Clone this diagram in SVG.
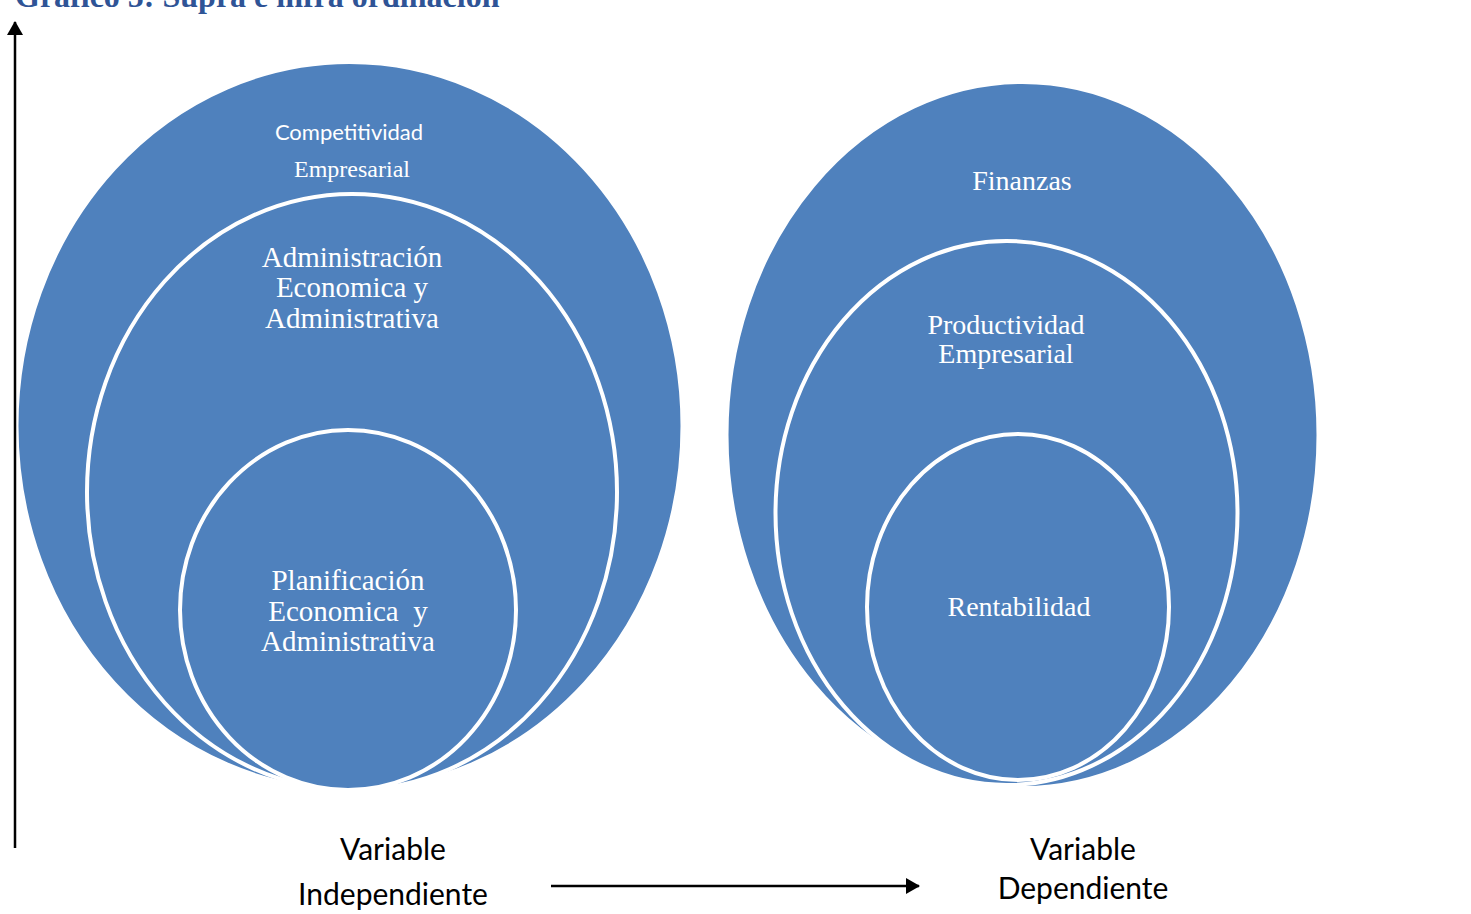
<svg xmlns="http://www.w3.org/2000/svg" width="1471" height="914" viewBox="0 0 1471 914">
  <style>
    .disc { fill: #4F81BD; stroke: #FFFFFF; stroke-width: 4; }
    .serif { font-family: "Liberation Serif", "Times New Roman", serif; fill: #FFFFFF; text-anchor: middle; }
    .sans { font-family: Lato, "Open Sans", sans-serif; text-anchor: middle; }
    .axis { stroke: #000000; stroke-width: 2.5; fill: none; }
  </style>
  <defs>
    <marker id="head" viewBox="0 0 14 16" refX="13" refY="8" markerWidth="14" markerHeight="16" markerUnits="userSpaceOnUse" orient="auto">
      <path d="M0,0 L14,8 L0,16 Z" fill="#000000"/>
    </marker>
  </defs>
  <rect width="1471" height="914" fill="#FFFFFF"/>

  <text x="15" y="7" font-family="'Liberation Serif', 'Times New Roman', serif" font-weight="bold" font-size="32" fill="#2F5496">Grafico 5: Supra e infra ordinación</text>

  <!-- independent variable nest -->
  <g id="competitividad">
    <ellipse class="disc" cx="349.5" cy="426" rx="333" ry="364"/>
    <text class="sans" x="349" y="140" font-size="22" fill="#FFFFFF">Competitividad</text>
    <text class="serif" x="352" y="177" font-size="24">Empresarial</text>
  </g>
  <g id="administracion">
    <ellipse class="disc" cx="352" cy="492" rx="265" ry="298"/>
    <text class="serif" x="352" y="267" font-size="29">Administración</text>
    <text class="serif" x="352" y="297" font-size="29">Economica y</text>
    <text class="serif" x="352" y="328" font-size="29">Administrativa</text>
  </g>
  <g id="planificacion">
    <ellipse class="disc" cx="348" cy="610" rx="168" ry="180"/>
    <text class="serif" x="348" y="590" font-size="29">Planificación</text>
    <text class="serif" x="348" y="621" font-size="29" xml:space="preserve">Economica  y</text>
    <text class="serif" x="348" y="651" font-size="29">Administrativa</text>
  </g>

  <!-- dependent variable nest -->
  <g id="finanzas">
    <ellipse class="disc" cx="1022.5" cy="435" rx="296" ry="353"/>
    <text class="serif" x="1022" y="190" font-size="28">Finanzas</text>
  </g>
  <g id="productividad">
    <ellipse class="disc" cx="1006.5" cy="513" rx="231" ry="272"/>
    <text class="serif" x="1006" y="334" font-size="28">Productividad</text>
    <text class="serif" x="1006" y="363" font-size="28">Empresarial</text>
  </g>
  <g id="rentabilidad">
    <ellipse class="disc" cx="1018" cy="607" rx="151" ry="173"/>
    <text class="serif" x="1019" y="616" font-size="28">Rentabilidad</text>
  </g>

  <!-- axes -->
  <g id="connectors">
    <line class="axis" x1="15" y1="848" x2="15" y2="22" marker-end="url(#head)"/>
    <line class="axis" x1="551" y1="886" x2="919" y2="886" marker-end="url(#head)"/>
  </g>

  <g id="labels">
    <text class="sans" x="393" y="860" font-size="30" fill="#000000">Variable</text>
    <text class="sans" x="393" y="905" font-size="30" fill="#000000">Independiente</text>
    <text class="sans" x="1083" y="860" font-size="30" fill="#000000">Variable</text>
    <text class="sans" x="1083" y="899" font-size="30" fill="#000000">Dependiente</text>
  </g>
</svg>
